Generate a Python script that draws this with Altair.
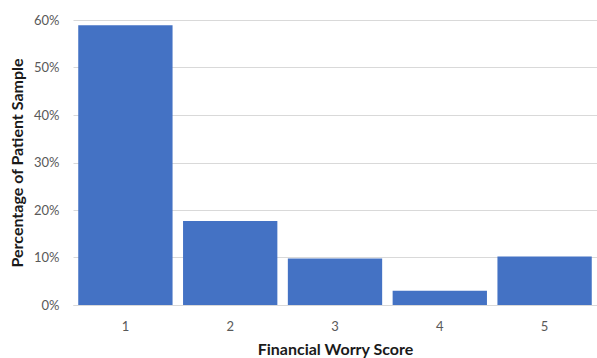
import altair as alt
import pandas as pd

scores = ["1", "2", "3", "4", "5"]
shares = [0.589, 0.177, 0.098, 0.030, 0.102]

df = pd.DataFrame({"score": scores, "share": shares})

FONT = "Lato"

chart = alt.Chart(df).mark_bar(color="#4472C4").encode(
    x=alt.X(
        "score:N",
        sort=scores,
        scale=alt.Scale(paddingInner=0.1, paddingOuter=0.05),
        axis=alt.Axis(
            title="Financial  Worry Score",
            labelAngle=0,
            ticks=False,
            domain=True,
            domainColor="#D9D9D9",
            labelPadding=15,
            labelFontSize=13,
            labelColor="#595959",
            labelFont=FONT,
            titleFont=FONT,
            titleFontSize=16,
            titleFontWeight="bold",
            titleColor="#1a1a1a",
            titlePadding=8,
        ),
    ),
    y=alt.Y(
        "share:Q",
        scale=alt.Scale(domain=[0, 0.6], nice=False),
        axis=alt.Axis(
            title="Percentage of Patient Sample",
            format=".0%",
            values=[0, 0.1, 0.2, 0.3, 0.4, 0.5, 0.6],
            ticks=False,
            domain=False,
            grid=True,
            gridColor="#D9D9D9",
            labelPadding=14,
            labelFontSize=13,
            labelColor="#595959",
            labelFont=FONT,
            titleFont=FONT,
            titleFontSize=16,
            titleFontWeight="bold",
            titleColor="#1a1a1a",
            titlePadding=8,
        ),
    ),
).properties(
    width=524,
    height=285,
    padding={"left": 73, "top": 20, "right": 0, "bottom": 53},
    autosize=alt.AutoSizeParams(type="none"),
    background="white",
).configure_view(stroke=None)

chart.save("out.html", embed_options={"renderer": "svg", "actions": False})
